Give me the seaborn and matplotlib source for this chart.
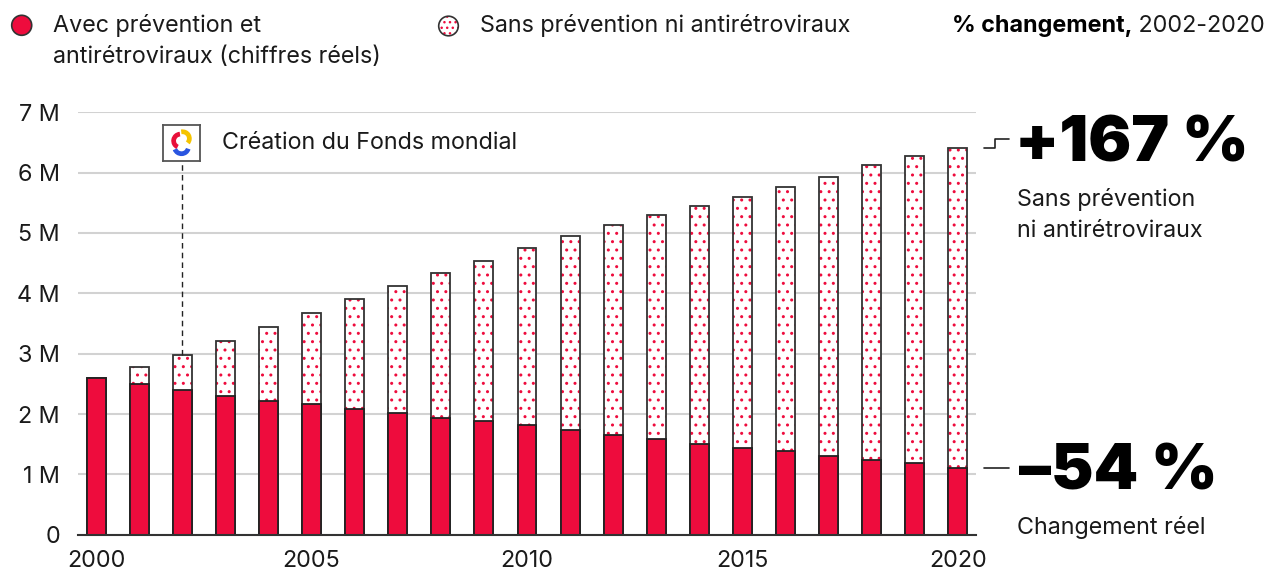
import pandas as pd
import seaborn as sns
import matplotlib.pyplot as plt
from matplotlib.patches import Circle, Arc

# Données (millions de nouvelles infections)
annees = list(range(2000, 2021))
reels = [2.60, 2.49, 2.40, 2.30, 2.22, 2.16, 2.09, 2.02, 1.94, 1.88, 1.82,
         1.73, 1.66, 1.58, 1.51, 1.44, 1.38, 1.31, 1.235, 1.18, 1.10]
sans_prevention = [2.60, 2.78, 2.97, 3.21, 3.45, 3.68, 3.90, 4.12, 4.34, 4.54, 4.75,
                   4.95, 5.13, 5.29, 5.44, 5.60, 5.77, 5.92, 6.12, 6.27, 6.41]
yticks = [0, 1, 2, 3, 4, 5, 6, 7]
ytick_labels = ["0", "1 M", "2 M", "3 M", "4 M", "5 M", "6 M", "7 M"]
xticks_annees = [2000, 2005, 2010, 2015, 2020]
annee_fonds = 2002

ROUGE = "#EE0C3D"
NOIR = "#1a1a1a"
W, H = 1279, 571
TAILLE = 16.8

sns.set_theme(style="white")
plt.rcParams['font.family'] = ['Inter', 'DejaVu Sans']
plt.rcParams['hatch.linewidth'] = 1.0


def px(x, y):
    # pixels (origine en haut à gauche) -> fraction de figure
    return x / W, 1 - y / H


df = pd.DataFrame({"annee": annees, "reels": reels, "sans": sans_prevention})

fig = plt.figure(figsize=(W / 100, H / 100), dpi=100)
ax = fig.add_axes([78 / W, 1 - 534.7 / H, (976 - 78) / W, (534.7 - 112.3) / H])

# Barres hachurées (sans prévention)
sns.barplot(data=df, x="annee", y="sans", ax=ax, color="white", width=0.44,
            saturation=1, linewidth=0, edgecolor=ROUGE, hatch="..", zorder=2)
n = len(ax.patches)
sns.barplot(data=df, x="annee", y="sans", ax=ax, fill=False, width=0.44,
            color="#333333", linewidth=1.3, zorder=3)
# Barres pleines (chiffres réels)
sns.barplot(data=df, x="annee", y="reels", ax=ax, color=ROUGE, width=0.44,
            saturation=1, edgecolor="#222222", linewidth=1.3, zorder=4)
for p in ax.patches[:n]:
    p.set_edgecolor(ROUGE)
    p.set_hatch("..")

ax.set_xlim(-0.42, len(annees) - 1 + 0.42)
ax.set_ylim(0, 7)
ax.set_axisbelow(True)
ax.yaxis.grid(True, color="#d2d2d2", lw=1.5)
for s in ["top", "right", "left"]:
    ax.spines[s].set_visible(False)
ax.spines["bottom"].set_color("#333333")
ax.spines["bottom"].set_linewidth(1.5)
ax.spines["bottom"].set_zorder(5)

ax.set_yticks(yticks)
ax.set_yticklabels(ytick_labels)
ax.set_xticks([annees.index(a) for a in xticks_annees])
ax.set_xticklabels([str(a) for a in xticks_annees])
ax.tick_params(axis="y", length=0, pad=13, labelsize=TAILLE, labelcolor=NOIR)
ax.tick_params(axis="x", length=0, pad=11, labelsize=TAILLE, labelcolor=NOIR)
ax.set_xlabel("")
ax.set_ylabel("")

# Création du Fonds mondial
i_f = annees.index(annee_fonds)
ax.plot([i_f, i_f], [sans_prevention[i_f], 6.19], color="#222222", lw=1,
        dashes=(4, 3), zorder=3)
fig.text(*px(222, 143), "Création du Fonds mondial", fontsize=TAILLE,
         color=NOIR, va="center", ha="left")

ax_logo = fig.add_axes([163 / W, 1 - 161 / H, 37 / W, 36 / H])
ax_logo.set_xlim(-1, 1)
ax_logo.set_ylim(-1, 1)
ax_logo.set_xticks([])
ax_logo.set_yticks([])
ax_logo.set_facecolor("white")
for s in ax_logo.spines.values():
    s.set_color("#555555")
    s.set_linewidth(1.3)
# logo stylisé : trois arcs en tourbillon
ax_logo.add_patch(Arc((-0.05, 0.12), 0.75, 0.75, theta1=95, theta2=245,
                      color="#E8103A", lw=3.4))
ax_logo.add_patch(Arc((0.05, 0.25), 0.75, 0.75, theta1=-40, theta2=100,
                      color="#F5C400", lw=3.4))
ax_logo.add_patch(Arc((0.0, -0.22), 0.75, 0.75, theta1=200, theta2=345,
                      color="#2A55E0", lw=3.4))

# Connecteurs à droite
i_last = len(annees) - 1
ax.plot([i_last + 0.6, i_last + 0.85, i_last + 0.85, i_last + 1.19],
        [sans_prevention[-1], sans_prevention[-1], 6.56, 6.56],
        color="#222222", lw=1.2, clip_on=False)
ax.plot([i_last + 0.6, i_last + 1.19], [reels[-1], reels[-1]],
        color="#222222", lw=1.2, clip_on=False)

fig.text(*px(1015, 162), "+167 %", fontsize=46, fontweight="black",
         color="black", va="baseline", ha="left")
fig.text(*px(1017, 206), "Sans prévention", fontsize=TAILLE, color=NOIR,
         va="baseline", ha="left")
fig.text(*px(1017, 237), "ni antirétroviraux", fontsize=TAILLE, color=NOIR,
         va="baseline", ha="left")
fig.text(*px(1019, 490), "–54 %", fontsize=46, fontweight="black",
         color="black", va="baseline", ha="left")
fig.text(*px(1017, 534), "Changement réel", fontsize=TAILLE, color=NOIR,
         va="baseline", ha="left")

# Légende
fig.patches.append(Circle((0.217, (H - 25.3) / 100), 0.1,
                          transform=fig.dpi_scale_trans, facecolor=ROUGE,
                          edgecolor="#333333", lw=1.2))
fig.patches.append(Circle((4.485, (H - 26) / 100), 0.098,
                          transform=fig.dpi_scale_trans, facecolor="white",
                          edgecolor=ROUGE, lw=0, hatch="..."))
fig.patches.append(Circle((4.485, (H - 26) / 100), 0.098,
                          transform=fig.dpi_scale_trans, facecolor="none",
                          edgecolor="#333333", lw=1.2))
fig.text(*px(53, 32), "Avec prévention et", fontsize=TAILLE, color=NOIR,
         va="baseline", ha="left")
fig.text(*px(53, 63), "antirétroviraux (chiffres réels)", fontsize=TAILLE,
         color=NOIR, va="baseline", ha="left")
fig.text(*px(480, 32), "Sans prévention ni antirétroviraux", fontsize=TAILLE,
         color=NOIR, va="baseline", ha="left")

t_norm = fig.text(*px(1265, 32), " 2002-2020", fontsize=TAILLE, color=NOIR,
                  va="baseline", ha="right")
fig.canvas.draw()
bb = t_norm.get_window_extent()
fig.text(bb.x0 / W, 1 - 32 / H, "% changement,", fontsize=TAILLE,
         fontweight="bold", color="black", va="baseline", ha="right")

fig.savefig("out.png", dpi=100)
